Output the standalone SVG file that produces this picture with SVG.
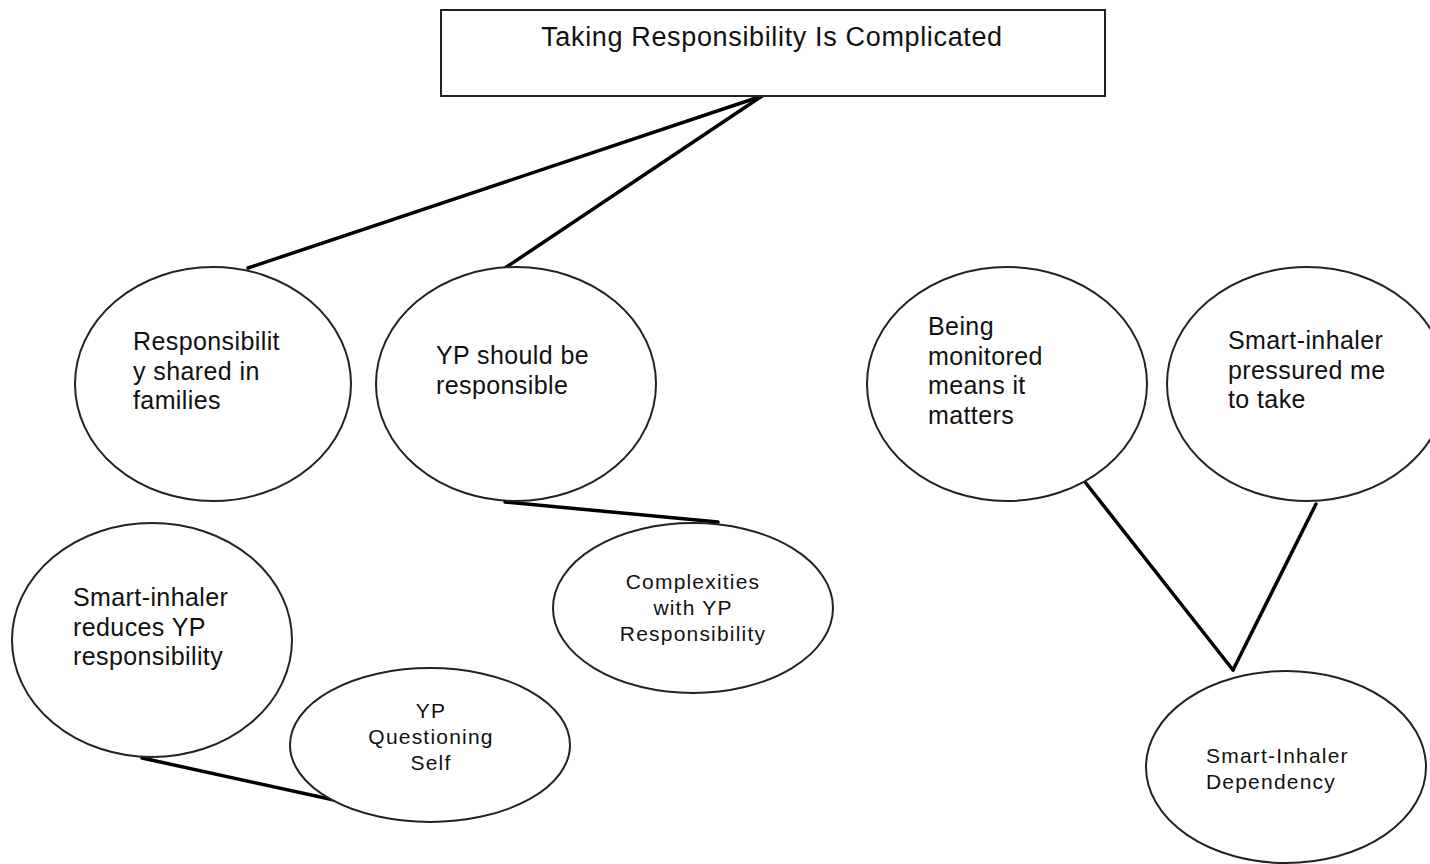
<svg xmlns="http://www.w3.org/2000/svg" width="1430" height="864" viewBox="0 0 1430 864">
<style>
.node{fill:#fff;stroke:#222;stroke-width:2}
.edge{stroke:#000;stroke-width:3.5;fill:none;stroke-linecap:round}
.t{font-family:"Liberation Sans",Arial,sans-serif;fill:#111}
.big{font-size:25px;letter-spacing:0.4px}
.sm{font-size:21px;letter-spacing:1.2px;text-anchor:middle}
.dep{font-size:21px;letter-spacing:1.2px}
.title{font-size:27px;letter-spacing:0.65px;text-anchor:middle}
</style>
<rect width="1430" height="864" fill="#fff"/>
<g id="connectors">
<line class="edge" x1="762" y1="96" x2="248" y2="268"/>
<line class="edge" x1="762" y1="96" x2="505" y2="268"/>
<line class="edge" x1="505" y1="502" x2="718" y2="522"/>
<line class="edge" x1="142" y1="758" x2="334" y2="800"/>
<line class="edge" x1="1085" y1="482" x2="1233" y2="670"/>
<line class="edge" x1="1316" y1="504" x2="1233" y2="670"/>
</g>
<g id="title">
<rect class="node" x="441" y="10" width="664" height="86"/>
<text class="t title" x="772" y="46">Taking Responsibility Is Complicated</text>
</g>
<g id="n-shared">
<ellipse class="node" cx="213" cy="384" rx="138" ry="117"/>
<text class="t big" x="133" y="350">Responsibilit</text>
<text class="t big" x="133" y="380">y shared in</text>
<text class="t big" x="133" y="409">families</text>
</g>
<g id="n-should">
<ellipse class="node" cx="516" cy="384" rx="140" ry="117"/>
<text class="t big" x="436" y="364">YP should be</text>
<text class="t big" x="436" y="394">responsible</text>
</g>
<g id="n-reduces">
<ellipse class="node" cx="152" cy="640" rx="140" ry="117"/>
<text class="t big" x="73" y="606">Smart-inhaler</text>
<text class="t big" x="73" y="636">reduces YP</text>
<text class="t big" x="73" y="665">responsibility</text>
</g>
<g id="n-questioning">
<ellipse class="node" cx="430" cy="745" rx="140" ry="77"/>
<text class="t sm" x="431" y="718">YP</text>
<text class="t sm" x="431" y="744">Questioning</text>
<text class="t sm" x="431" y="770">Self</text>
</g>
<g id="n-complexities">
<ellipse class="node" cx="693" cy="608" rx="140" ry="85"/>
<text class="t sm" x="693" y="589">Complexities</text>
<text class="t sm" x="693" y="615">with YP</text>
<text class="t sm" x="693" y="641">Responsibility</text>
</g>
<g id="n-monitored">
<ellipse class="node" cx="1007" cy="384" rx="140" ry="117"/>
<text class="t big" x="928" y="335">Being</text>
<text class="t big" x="928" y="365">monitored</text>
<text class="t big" x="928" y="394">means it</text>
<text class="t big" x="928" y="424">matters</text>
</g>
<g id="n-pressured">
<ellipse class="node" cx="1307" cy="384" rx="140" ry="117"/>
<text class="t big" x="1228" y="349">Smart-inhaler</text>
<text class="t big" x="1228" y="379">pressured me</text>
<text class="t big" x="1228" y="408">to take</text>
</g>
<g id="n-dependency">
<ellipse class="node" cx="1286" cy="767" rx="140" ry="96"/>
<text class="t dep" x="1206" y="763">Smart-Inhaler</text>
<text class="t dep" x="1206" y="789">Dependency</text>
</g>
</svg>
